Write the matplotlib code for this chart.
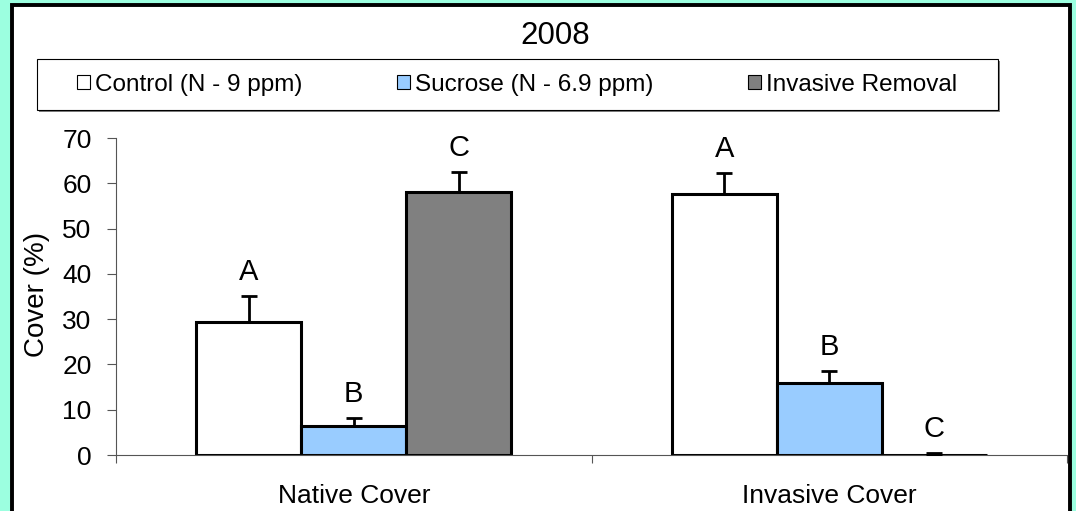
import numpy as np
import matplotlib.pyplot as plt
from matplotlib.patches import Rectangle

plt.rcParams['font.family'] = ['Liberation Sans', 'DejaVu Sans']

# data
categories = ['Native Cover', 'Invasive Cover']
series = ['Control (N - 9 ppm)', 'Sucrose (N - 6.9 ppm)', 'Invasive Removal']
control = [29.4, 57.6]
sucrose = [6.5, 16.0]
removal = [58.0, 0.0]
control_err = [5.7, 4.7]
sucrose_err = [1.6, 2.5]
removal_err = [4.5, 0.5]
control_letters = ['A', 'A']
sucrose_letters = ['B', 'B']
removal_letters = ['C', 'C']

colors = ['#FFFFFF', '#99CCFF', '#808080']
W, H = 1076, 511

fig = plt.figure(figsize=(W / 100, H / 100), dpi=100)
fig.patch.set_facecolor('#9CFFE0')

# white chart area with thick black border
fig.patches.append(Rectangle((12 / W, -0.05), 1058 / W, 1.05 - 5.5 / H,
                             transform=fig.transFigure, facecolor='white',
                             edgecolor='black', linewidth=2.8, zorder=-10))

ax = fig.add_axes([116 / W, 1 - 455 / H, (1067 - 116) / W, (455 - 138) / H])
ax.set_facecolor('none')

x = np.arange(len(categories))
w = 0.2205
values = [control, sucrose, removal]
errors = [control_err, sucrose_err, removal_err]
letters = [control_letters, sucrose_letters, removal_letters]

for i, (vals, errs, lets) in enumerate(zip(values, errors, letters)):
    pos = x + (i - 1) * w
    ax.bar(pos, vals, width=w, color=colors[i], edgecolor='black',
           linewidth=2.2, label=series[i], zorder=2)
    ax.errorbar(pos, vals, yerr=[np.zeros(len(vals)), errs], fmt='none',
                ecolor='black', elinewidth=2.0, capsize=6, capthick=2.0, zorder=3)
    for p, v, e, t in zip(pos, vals, errs, lets):
        ax.annotate(t, (p, v + e), xytext=(0, 11.5), textcoords='offset points',
                    ha='center', va='baseline', fontsize=21)

ax.set_xlim(-0.5, 1.5)
ax.set_ylim(0, 70)
ax.set_yticks(range(0, 71, 10))
ax.tick_params(axis='y', labelsize=19, length=6.5, width=0.8, pad=11,
               direction='out', color='#555555')
ax.set_xticks(x)
ax.set_xticklabels(categories)
ax.tick_params(axis='x', which='major', labelsize=19, length=0, pad=21)
ax.set_xticks([-0.5, 0.5, 1.5], minor=True)
ax.tick_params(axis='x', which='minor', length=6, width=0.8, direction='out',
               color='#555555')

for s in ['top', 'right']:
    ax.spines[s].set_visible(False)
for s in ['left', 'bottom']:
    ax.spines[s].set_color('#555555')
    ax.spines[s].set_linewidth(0.8)

ax.set_ylabel('Cover (%)', fontsize=20)
ax.yaxis.set_label_coords(-0.0695, 0.505)

fig.text(555 / W, 1 - 36 / H, '2008', ha='center', va='center', fontsize=22.5)

# legend box with shadow
fig.patches.append(Rectangle((39 / W, 1 - 112 / H), 961 / W, 51 / H,
                             transform=fig.transFigure, facecolor='#808080',
                             edgecolor='none', zorder=1))
fig.patches.append(Rectangle((37 / W, 1 - 110 / H), 961 / W, 51 / H,
                             transform=fig.transFigure, facecolor='white',
                             edgecolor='black', linewidth=0.8, zorder=1))
leg = fig.legend(loc='center', ncol=3, mode='expand', frameon=False,
                 bbox_to_anchor=(77 / W, 1 - 110 / H, (957 - 77) / W, 51 / H),
                 borderpad=0, borderaxespad=0, fontsize=17.5, handlelength=0.55,
                 handleheight=0.55, handletextpad=0.2)
for h in leg.legend_handles:
    h.set_linewidth(0.8)

fig.savefig('out.png', dpi=100, facecolor=fig.get_facecolor())
